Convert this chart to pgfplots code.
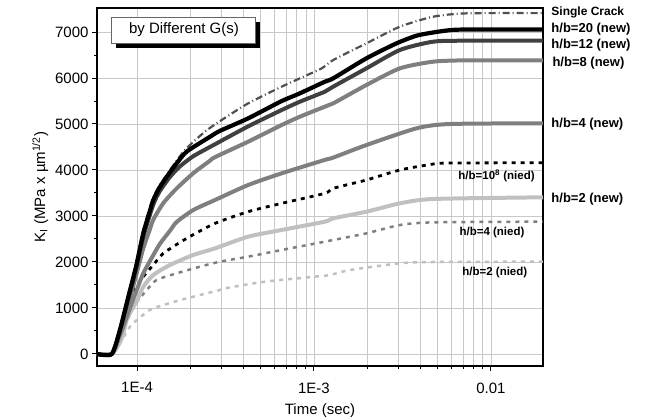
\documentclass[border=0pt]{standalone}
\usepackage{fontspec}
\setmainfont{Liberation Sans}
\usepackage{pgfplots}
\pgfplotsset{compat=1.18}
\usetikzlibrary{shadows}
\definecolor{dk}{HTML}{404040}
\definecolor{md}{HTML}{7F7F7F}
\definecolor{lt}{HTML}{C0C0C0}
\definecolor{sc}{HTML}{505050}
\definecolor{gridc}{HTML}{C8C8C8}
\begin{document}
\begin{tikzpicture}
\begin{axis}[
  scale only axis, width=446pt, height=358pt,
  xmode=log, xmin=5.94e-5, xmax=0.0197,
  ymin=-261, ymax=7522,
  xtick={1e-4,1e-3,1e-2}, xticklabels={1E-4,1E-3,0.01},
  ytick={0,1000,...,7000},
  minor ytick={500,1500,...,6500},
  xmajorgrids=true, xminorgrids=true, ymajorgrids=true,
  major grid style={color=gridc, line width=0.7pt},
  minor grid style={color=gridc, line width=0.7pt},
  axis line style={line width=2.2pt},
  tick align=outside, tick pos=left,
  major tick length=5pt, minor tick length=3pt,
  every tick/.style={black, line width=1pt},
  tick label style={font=\fontsize{15}{18}\selectfont},
  xticklabel style={yshift=-8pt},
  /pgf/number format/assume math mode=true,
  yticklabel style={/pgf/number format/1000 sep={}},
  xlabel={Time (sec)},
  ylabel={K\textsubscript{I} (MPa x µm\textsuperscript{1/2})},
  label style={font=\fontsize{15}{18}\selectfont},
  xlabel style={yshift=-4pt},
  clip=false,
  every axis plot/.append style={line join=round, smooth, tension=0.4},
]
\coordinate (sw) at (rel axis cs:0,0);

% h/b=2 (nied)
\addplot[lt, line width=2.5pt, dash pattern=on 4pt off 5pt] coordinates {
(5.94e-5,0) (7.2e-5,0) (8.0e-5,232) (9.13e-5,594) (1.0e-4,739) (1.18e-4,957)
(1.408e-4,1065) (1.91e-4,1210) (2.94e-4,1391) (3.14e-4,1428) (5.29e-4,1572)
(1.013e-3,1681) (1.23e-3,1717) (1.6e-3,1826) (3.06e-3,1971) (4.72e-3,2000) (0.0197,2007)};

% h/b=4 (nied)
\addplot[md, line width=2.5pt, dash pattern=on 4pt off 5pt] coordinates {
(5.94e-5,0) (7.2e-5,0) (8.0e-5,250) (8.74e-5,700) (9.87e-5,1101) (1.135e-4,1391)
(1.29e-4,1609) (1.676e-4,1754) (2.27e-4,1898) (2.94e-4,2007) (4.25e-4,2116)
(6.57e-4,2261) (1.153e-3,2442) (1.285e-3,2478) (1.98e-3,2623) (3.06e-3,2804)
(4.72e-3,2862) (0.0197,2877)};

% h/b=10^8 (nied)
\addplot[black, line width=2.8pt, dash pattern=on 4pt off 5pt] coordinates {
(5.94e-5,0) (7.2e-5,0) (8.0e-5,400) (8.55e-5,850) (9.53e-5,1326) (1.085e-4,1681)
(1.236e-4,1935) (1.408e-4,2189) (1.91e-4,2514) (2.76e-4,2840) (4.25e-4,3094)
(6.57e-4,3275) (1.153e-3,3493) (1.285e-3,3601) (1.98e-3,3783) (3.06e-3,4000)
(4.72e-3,4130) (5.62e-3,4150) (0.0197,4159)};

% h/b=2 (new)
\addplot[lt, line width=4pt] coordinates {
(5.94e-5,0) (7.2e-5,0) (8.0e-5,250) (8.37e-5,450) (8.74e-5,739) (9.53e-5,1029)
(1.0e-4,1150) (1.085e-4,1463) (1.236e-4,1717) (1.536e-4,1935) (2.08e-4,2152)
(2.76e-4,2297) (4.25e-4,2551) (6.57e-4,2696) (1.153e-3,2877) (1.285e-3,2949)
(1.98e-3,3094) (3.06e-3,3275) (4.72e-3,3370) (0.0197,3406)};

% h/b=4 (new)
\addplot[md, line width=4pt] coordinates {
(5.94e-5,0) (7.2e-5,0) (8.0e-5,400) (8.93e-5,900) (9.87e-5,1350) (1.085e-4,1754)
(1.236e-4,2150) (1.35e-4,2400) (1.536e-4,2680) (1.676e-4,2870) (2.08e-4,3130)
(2.76e-4,3348) (4.25e-4,3674) (6.57e-4,3928) (1.153e-3,4220) (1.285e-3,4270)
(1.98e-3,4543) (3.8e-3,4906) (5.86e-3,5000) (0.0197,5015)};

% h/b=8 (new)
\addplot[md, line width=4pt] coordinates {
(5.94e-5,0) (7.2e-5,0) (8.0e-5,470) (8.93e-5,1100) (9.87e-5,1700) (1.085e-4,2300)
(1.18e-4,2700) (1.236e-4,2920) (1.408e-4,3280) (1.676e-4,3600) (2.08e-4,3930)
(2.58e-4,4200) (2.76e-4,4280) (4.25e-4,4616) (6.57e-4,4978) (8.33e-4,5159)
(1.153e-3,5377) (1.285e-3,5449) (1.98e-3,5848) (3.06e-3,6210) (4.72e-3,6355)
(7.29e-3,6384) (0.0197,6384)};

% Single Crack
\addplot[sc, line width=2.2pt, dash pattern=on 7pt off 3pt on 1pt off 3pt] coordinates {
(5.94e-5,0) (7.2e-5,0) (8.0e-5,540) (8.93e-5,1280) (9.87e-5,1950) (1.085e-4,2700)
(1.236e-4,3400) (1.32e-4,3620) (1.536e-4,4000) (1.867e-4,4435) (2.42e-4,4833)
(3.01e-4,5087) (4.25e-4,5449) (6.57e-4,5812) (8.33e-4,5993) (1.105e-3,6210)
(1.285e-3,6391) (1.98e-3,6754) (3.06e-3,7116) (4.72e-3,7333) (7.29e-3,7406)
(0.0197,7410)};

% h/b=12 (new)
\addplot[dk, line width=4pt] coordinates {
(5.94e-5,0) (7.2e-5,0) (8.0e-5,500) (8.93e-5,1200) (9.87e-5,1850) (1.085e-4,2550)
(1.236e-4,3250) (1.35e-4,3550) (1.536e-4,3850) (1.75e-4,4080) (2.08e-4,4300)
(2.76e-4,4560) (4.25e-4,4949) (6.57e-4,5304) (8.33e-4,5485) (1.153e-3,5703)
(1.285e-3,5812) (1.98e-3,6210) (3.06e-3,6609) (4.72e-3,6790) (7.29e-3,6811)
(0.0197,6811)};

% h/b=20 (new)
\addplot[black, line width=4.2pt] coordinates {
(5.94e-5,0) (7.2e-5,0) (8.0e-5,520) (8.93e-5,1246) (9.87e-5,1898) (1.085e-4,2623)
(1.18e-4,3100) (1.236e-4,3348) (1.35e-4,3637) (1.536e-4,3950) (1.676e-4,4145)
(1.91e-4,4400) (2.58e-4,4720) (2.94e-4,4850) (4.25e-4,5123) (6.5e-4,5490)
(8.33e-4,5667) (1.153e-3,5920) (1.285e-3,5993) (1.98e-3,6428) (2.93e-3,6754)
(3.8e-3,6920) (4.72e-3,6990) (5.86e-3,7040) (7.29e-3,7054) (0.0197,7054)};

% labels
\node[anchor=west, font=\bfseries\fontsize{12}{14}\selectfont] at (axis cs:0.0210,7435) {Single Crack};
\node[anchor=west, font=\bfseries\fontsize{13}{15}\selectfont] at (axis cs:0.0210,7065) {h/b=20 (new)};
\node[anchor=west, font=\bfseries\fontsize{13}{15}\selectfont] at (axis cs:0.0210,6717) {h/b=12 (new)};
\node[anchor=west, font=\bfseries\fontsize{13}{15}\selectfont] at (axis cs:0.0213,6326) {h/b=8 (new)};
\node[anchor=west, font=\bfseries\fontsize{13}{15}\selectfont] at (axis cs:0.0210,5000) {h/b=4 (new)};
\node[anchor=west, font=\bfseries\fontsize{13}{15}\selectfont] at (axis cs:0.0210,3370) {h/b=2 (new)};
\node[anchor=east, font=\bfseries\fontsize{11.5}{14}\selectfont] at (axis cs:0.0185,3870) {h/b=10\textsuperscript{8} (nied)};
\node[anchor=east, font=\bfseries\fontsize{11.5}{14}\selectfont] at (axis cs:0.0162,2630) {h/b=4 (nied)};
\node[anchor=east, font=\bfseries\fontsize{11.5}{14}\selectfont] at (axis cs:0.0168,1761) {h/b=2 (nied)};

\node[draw=black!60, line width=1pt, fill=white, minimum width=144pt, minimum height=26pt,
  drop shadow={shadow xshift=4pt, shadow yshift=-5pt, fill=black, opacity=1},
  font=\fontsize{15}{18}\selectfont] at (rel axis cs:0.195,0.9385) {by Different G(s)};
\end{axis}
\pgfresetboundingbox
\path[use as bounding box] ([shift={(-97pt,-53pt)}]sw) rectangle ++(646pt,419pt);
\end{tikzpicture}
\end{document}
